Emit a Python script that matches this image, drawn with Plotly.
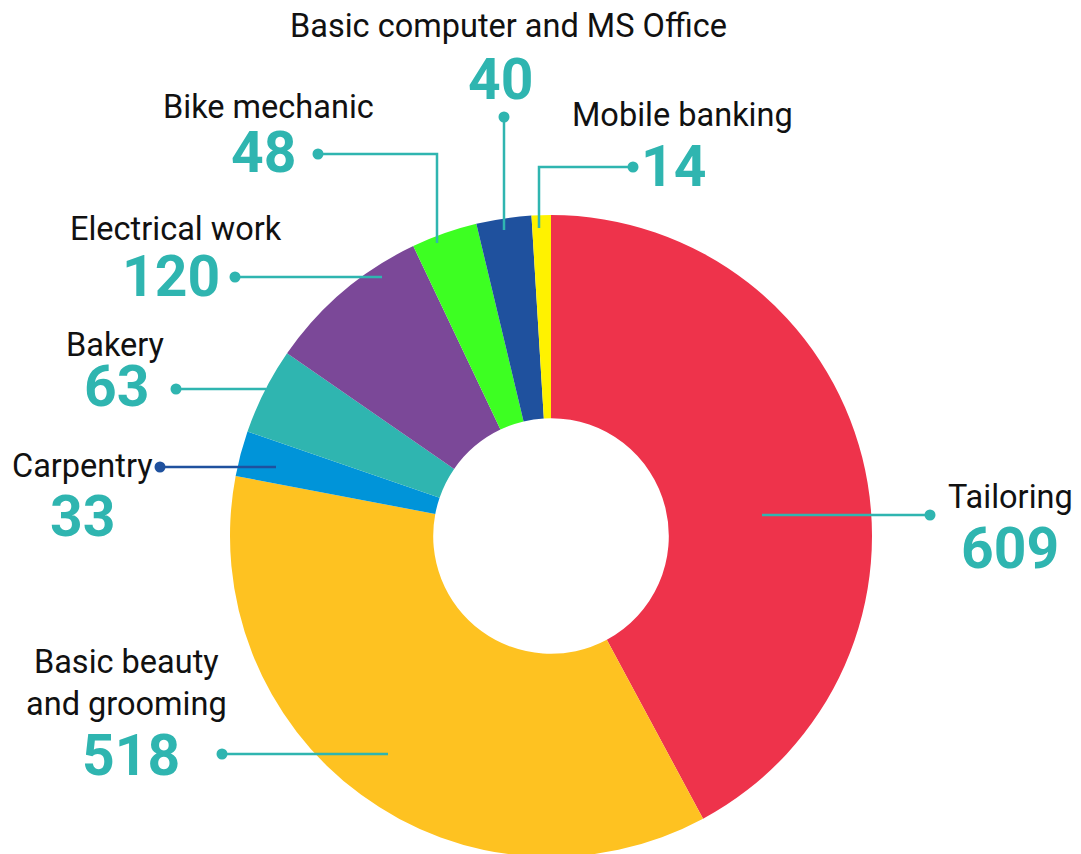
import plotly.graph_objects as go

# ---- data ----
categories = ["Tailoring", "Basic beauty and grooming", "Carpentry", "Bakery",
              "Electrical work", "Bike mechanic", "Basic computer and MS Office",
              "Mobile banking"]
values = [609, 518, 33, 63, 120, 48, 40, 14]
label_text = ["Tailoring", "Basic beauty<br>and grooming", "Carpentry", "Bakery",
              "Electrical work", "Bike mechanic", "Basic computer and MS Office",
              "Mobile banking"]
colors = ["#EE334B", "#FEC221", "#0094D9", "#2FB5B0", "#7B4898", "#3DFF22",
          "#1F519E", "#FFF200"]

# ---- layout positions (page pixels, window is 1081x854) ----
W, H = 1081, 854
OFF = 8  # page body margin offset
label_pos = [(1010, 497), (126, 683), (82, 466), (115, 345), (176, 229),
             (268, 107), (508, 26), (682, 115)]
number_pos = [(1010, 548), (131, 755), (82, 516), (116, 386), (171, 276),
              (263, 153), (500, 80), (673, 166)]
leaders = [
    [(762, 515), (930, 515)],
    [(388, 754), (222, 754)],
    [(276, 467), (160, 467)],
    [(266, 389), (176, 389)],
    [(382, 277), (235, 277)],
    [(437, 243), (437, 154), (318, 154)],
    [(504, 230), (504, 117)],
    [(539, 228), (539, 167), (633, 167)],
]
leader_colors = ["#2FB5B0", "#2FB5B0", "#1F519E", "#2FB5B0", "#2FB5B0",
                 "#2FB5B0", "#2FB5B0", "#2FB5B0"]

def px(x):
    return (x - OFF) / W

def py(y):
    return 1 - (y - OFF) / H

R = 321
cx, cy = 551, 536

fig = go.Figure(go.Pie(
    labels=categories,
    values=values,
    marker=dict(colors=colors, line=dict(width=0)),
    sort=False,
    direction="clockwise",
    rotation=0,
    hole=0.367,
    textinfo="none",
    showlegend=False,
    domain=dict(x=[px(cx - R), px(cx + R)], y=[py(cy + R), py(cy - R)]),
))

shapes = []
for pts, col in zip(leaders, leader_colors):
    path = "M " + " L ".join(f"{px(x)},{py(y)}" for x, y in pts)
    shapes.append(dict(type="path", path=path, xref="paper", yref="paper",
                       line=dict(color=col, width=2.5), layer="above"))
    dx, dy = pts[-1]
    r = 5.5
    shapes.append(dict(type="circle", xref="paper", yref="paper",
                       x0=px(dx - r), x1=px(dx + r), y0=py(dy + r), y1=py(dy - r),
                       fillcolor=col, line=dict(width=0), layer="above"))

annotations = []
for txt, (lx, ly), v, (nx, ny) in zip(label_text, label_pos, values, number_pos):
    annotations.append(dict(text=txt, x=px(lx), y=py(ly), xref="paper", yref="paper",
                            xanchor="center", yanchor="middle", showarrow=False,
                            font=dict(family="Roboto", size=32.5, color="#111111")))
    annotations.append(dict(text=f"<b>{v}</b>", x=px(nx), y=py(ny), xref="paper",
                            yref="paper", xanchor="center", yanchor="middle",
                            showarrow=False,
                            font=dict(family="Roboto", size=57, color="#2FB5B0")))

fig.update_layout(
    width=W, height=H,
    margin=dict(l=0, r=0, t=0, b=0),
    paper_bgcolor="white", plot_bgcolor="white",
    shapes=shapes, annotations=annotations,
)

fig.write_html("out.html")
